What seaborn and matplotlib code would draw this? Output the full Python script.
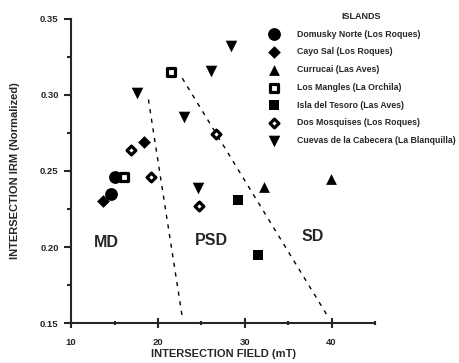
import pandas as pd
import matplotlib.pyplot as plt
import seaborn as sns

# Island names (legend order)
islands = ['Domusky Norte (Los Roques)', 'Cayo Sal (Los Roques)', 'Currucai (Las Aves)',
           'Los Mangles (La Orchila)', 'Isla del Tesoro (Las Aves)',
           'Dos Mosquises (Los Roques)', 'Cuevas de la Cabecera (La Blanquilla)']

# Intersection field (mT) and normalized IRM per island
domusky_x = [15.0, 14.6]
domusky_y = [0.246, 0.235]
cayo_x = [18.4, 13.7]
cayo_y = [0.269, 0.230]
currucai_x = [32.2, 39.9]
currucai_y = [0.2395, 0.245]
mangles_x = [21.5, 16.1]
mangles_y = [0.315, 0.246]
tesoro_x = [29.2, 31.5]
tesoro_y = [0.231, 0.195]
mosquises_x = [16.9, 19.2, 26.7, 24.7]
mosquises_y = [0.264, 0.246, 0.274, 0.227]
cuevas_x = [17.6, 23.0, 26.1, 28.4, 24.6]
cuevas_y = [0.301, 0.2855, 0.316, 0.332, 0.239]

# Domain boundaries
line1_x = [18.9, 22.8]
line1_y = [0.297, 0.154]
line2_x = [22.8, 39.5]
line2_y = [0.311, 0.155]

xs = [domusky_x, cayo_x, currucai_x, mangles_x, tesoro_x, mosquises_x, cuevas_x]
ys = [domusky_y, cayo_y, currucai_y, mangles_y, tesoro_y, mosquises_y, cuevas_y]
df = pd.concat([pd.DataFrame({'field': x, 'irm': y, 'island': name})
                for name, x, y in zip(islands, xs, ys)], ignore_index=True)

# marker, size, face colour
styles = {
    islands[0]: ('o', 85, 'black'),
    islands[1]: ('D', 42, 'black'),
    islands[2]: ('^', 60, 'black'),
    islands[3]: ('s', 28, 'white'),
    islands[4]: ('s', 55, 'black'),
    islands[5]: ('D', 20, 'white'),
    islands[6]: ('v', 70, 'black'),
}

sns.set_style("ticks")
plt.rcParams['font.family'] = ['Liberation Sans', 'DejaVu Sans']
plt.rcParams['font.weight'] = 'bold'

fig = plt.figure(figsize=(4.59, 3.63), dpi=100)
ax = fig.add_axes([0.155, 0.110, 0.662, 0.838])

for name in islands:
    marker, size, face = styles[name]
    sub = df[df['island'] == name]
    lw = 2.3 if face == 'white' else 0
    sns.scatterplot(data=sub, x='field', y='irm', marker=marker, s=size,
                    color=face, edgecolor='black', linewidth=lw, label=name, ax=ax)

ax.plot(line1_x, line1_y, color='black', linestyle=(0, (3, 4)), linewidth=1)
ax.plot(line2_x, line2_y, color='black', linestyle=(0, (3, 4)), linewidth=1)

ax.text(14.1, 0.203, 'MD', fontsize=11.5, fontweight='bold', ha='center', va='center')
ax.text(26.2, 0.204, 'PSD', fontsize=11.5, fontweight='bold', ha='center', va='center')
ax.text(37.8, 0.207, 'SD', fontsize=11.5, fontweight='bold', ha='center', va='center')

ax.set_xlim(10, 45)
ax.set_ylim(0.15, 0.35)
ax.set_xticks([10, 20, 30, 40])
ax.set_xticks([15, 25, 35, 45], minor=True)
ax.set_yticks([0.15, 0.20, 0.25, 0.30, 0.35])
ax.set_yticks([0.175, 0.225, 0.275, 0.325], minor=True)
ax.set_yticklabels(['0.15', '0.20', '0.25', '0.30', '0.35'])
ax.tick_params(axis='both', which='major', length=5, width=1.5, labelsize=6.8, pad=4)
ax.tick_params(axis='both', which='minor', length=3, width=1.5)
ax.tick_params(axis='x', which='both', direction='inout')
ax.tick_params(axis='x', which='major', length=7, pad=7)
for lab in ax.get_xticklabels() + ax.get_yticklabels():
    lab.set_fontweight('bold')

sns.despine(ax=ax)
ax.spines['left'].set_linewidth(1.5)
ax.spines['bottom'].set_linewidth(1.5)

ax.set_xlabel('INTERSECTION FIELD (mT)', fontsize=8, fontweight='bold')
ax.set_ylabel('INTERSECTION IRM (Normalized)', fontsize=8, fontweight='bold')
ax.xaxis.set_label_coords(0.5, -0.085)
ax.yaxis.set_label_coords(-0.168, 0.5)

leg = ax.legend(title='ISLANDS', frameon=False, fontsize=6.3,
                bbox_to_anchor=(0.571, 0.977), bbox_transform=fig.transFigure,
                loc='upper left', labelspacing=1.0, handletextpad=1.6,
                borderaxespad=0)
leg.get_title().set_fontsize(6.5)
leg.get_title().set_fontweight('bold')
for t in leg.get_texts():
    t.set_fontweight('bold')

plt.savefig('out.png', dpi=100)
